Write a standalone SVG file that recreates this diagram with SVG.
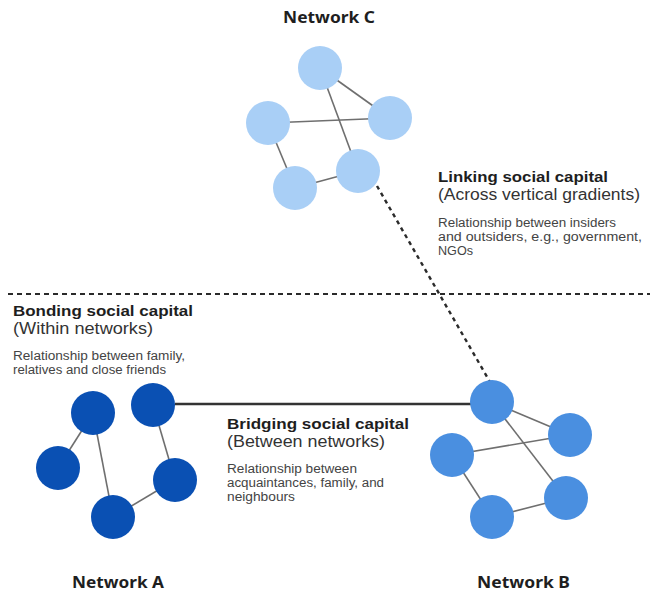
<svg xmlns="http://www.w3.org/2000/svg" width="653" height="592" viewBox="0 0 653 592">
  <style>
    .title { font-family: "Noto Sans", "Open Sans", sans-serif; font-weight: 700; font-size: 16.5px; fill: #1e1e1e; }
    .head { font-family: "Liberation Sans", Arial, sans-serif; font-weight: 700; font-size: 15.5px; fill: #1e1e1e; }
    .sub { font-family: "Liberation Sans", Arial, sans-serif; font-size: 16px; fill: #333; }
    .body { font-family: "Liberation Sans", Arial, sans-serif; font-size: 12.3px; fill: #444; }
    .edge { stroke: #6f6f6f; stroke-width: 1.6; fill: none; }
    .na { fill: #0a50b3; }
    .nb { fill: #4a8fe0; }
    .nc { fill: #a9cff6; }
  </style>

  <rect width="653" height="592" fill="#ffffff"/>

  <!-- connectors -->
  <g id="connectors">
    <!-- boundary between horizontal and vertical ties -->
    <line x1="8" y1="294" x2="650" y2="294" stroke="#2a2a2a" stroke-width="2" stroke-dasharray="5,4"/>
    <!-- linking tie: network C to network B -->
    <line x1="377" y1="186" x2="490" y2="382" stroke="#2a2a2a" stroke-width="2.4" stroke-dasharray="4,4"/>
    <!-- bridging tie: network A to network B -->
    <line x1="175" y1="404" x2="472" y2="404" stroke="#333" stroke-width="2.6"/>

    <!-- network C ties -->
    <line class="edge" x1="320" y1="68" x2="390" y2="118"/>
    <line class="edge" x1="320" y1="68" x2="358" y2="171"/>
    <line class="edge" x1="268" y1="123" x2="390" y2="118"/>
    <line class="edge" x1="268" y1="123" x2="295" y2="188"/>
    <line class="edge" x1="295" y1="188" x2="358" y2="171"/>

    <!-- network A ties -->
    <line class="edge" x1="93" y1="413" x2="58" y2="468"/>
    <line class="edge" x1="93" y1="413" x2="113" y2="517"/>
    <line class="edge" x1="153" y1="405" x2="175" y2="480"/>
    <line class="edge" x1="175" y1="480" x2="113" y2="517"/>

    <!-- network B ties -->
    <line class="edge" x1="492" y1="402" x2="570" y2="435"/>
    <line class="edge" x1="492" y1="402" x2="566" y2="498"/>
    <line class="edge" x1="452" y1="455" x2="570" y2="435"/>
    <line class="edge" x1="452" y1="455" x2="492" y2="517"/>
    <line class="edge" x1="492" y1="517" x2="566" y2="498"/>
  </g>

  <!-- network C -->
  <g id="network-c">
    <circle class="nc" cx="320" cy="68" r="22"/>
    <circle class="nc" cx="390" cy="118" r="22"/>
    <circle class="nc" cx="268" cy="123" r="22"/>
    <circle class="nc" cx="358" cy="171" r="22"/>
    <circle class="nc" cx="295" cy="188" r="22"/>
    <text class="title" x="283" y="23" textLength="92" lengthAdjust="spacingAndGlyphs">Network C</text>
  </g>

  <!-- network A -->
  <g id="network-a">
    <circle class="na" cx="93" cy="413" r="22"/>
    <circle class="na" cx="153" cy="405" r="22"/>
    <circle class="na" cx="58" cy="468" r="22"/>
    <circle class="na" cx="175" cy="480" r="22"/>
    <circle class="na" cx="113" cy="517" r="22"/>
    <text class="title" x="72" y="588" textLength="92" lengthAdjust="spacingAndGlyphs">Network A</text>
  </g>

  <!-- network B -->
  <g id="network-b">
    <circle class="nb" cx="492" cy="402" r="22"/>
    <circle class="nb" cx="570" cy="435" r="22"/>
    <circle class="nb" cx="452" cy="455" r="22"/>
    <circle class="nb" cx="566" cy="498" r="22"/>
    <circle class="nb" cx="492" cy="517" r="22"/>
    <text class="title" x="477" y="588" textLength="93" lengthAdjust="spacingAndGlyphs">Network B</text>
  </g>

  <!-- linking label -->
  <g id="label-linking">
    <text class="head" x="438" y="182" textLength="170" lengthAdjust="spacingAndGlyphs">Linking social capital</text>
    <text class="sub" x="438" y="200" textLength="202" lengthAdjust="spacingAndGlyphs">(Across vertical gradients)</text>
    <text class="body" x="438" y="227" textLength="178" lengthAdjust="spacingAndGlyphs">Relationship between insiders</text>
    <text class="body" x="438" y="241" textLength="204" lengthAdjust="spacingAndGlyphs">and outsiders, e.g., government,</text>
    <text class="body" x="438" y="255" textLength="35" lengthAdjust="spacingAndGlyphs">NGOs</text>
  </g>

  <!-- bonding label -->
  <g id="label-bonding">
    <text class="head" x="13" y="316" textLength="180" lengthAdjust="spacingAndGlyphs">Bonding social capital</text>
    <text class="sub" x="13" y="334" textLength="140" lengthAdjust="spacingAndGlyphs">(Within networks)</text>
    <text class="body" x="13" y="360" textLength="172" lengthAdjust="spacingAndGlyphs">Relationship between family,</text>
    <text class="body" x="13" y="374" textLength="153" lengthAdjust="spacingAndGlyphs">relatives and close friends</text>
  </g>

  <!-- bridging label -->
  <g id="label-bridging">
    <text class="head" x="227" y="429" textLength="182" lengthAdjust="spacingAndGlyphs">Bridging social capital</text>
    <text class="sub" x="227" y="447" textLength="158" lengthAdjust="spacingAndGlyphs">(Between networks)</text>
    <text class="body" x="227" y="473" textLength="130" lengthAdjust="spacingAndGlyphs">Relationship between</text>
    <text class="body" x="227" y="487" textLength="157" lengthAdjust="spacingAndGlyphs">acquaintances, family, and</text>
    <text class="body" x="227" y="501" textLength="68" lengthAdjust="spacingAndGlyphs">neighbours</text>
  </g>
</svg>
